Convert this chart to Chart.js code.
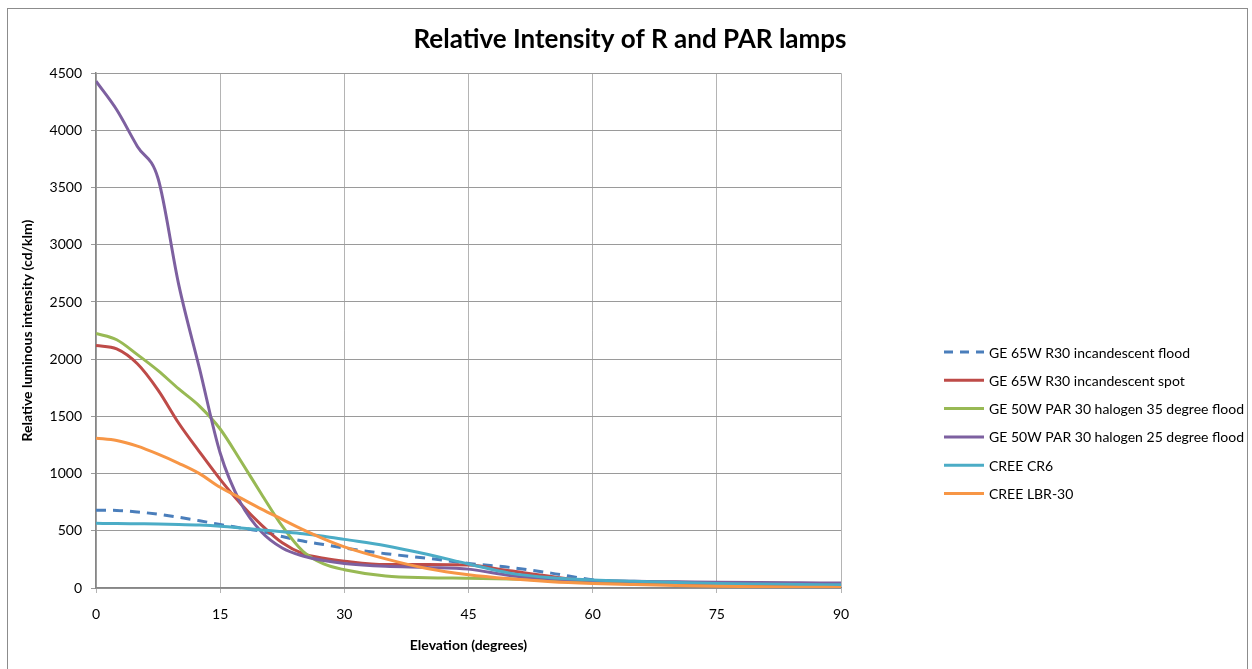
<!DOCTYPE html>
<html>
<head>
<meta charset="utf-8">
<script src="https://cdn.jsdelivr.net/npm/chart.js@4.4.1/dist/chart.umd.min.js"></script>
<style>
  html, body { margin: 0; padding: 0; background: #fff; }
  #wrap { position: relative; width: 1252px; height: 669px; }
  #frame { position: absolute; left: 7px; top: 8px; width: 1241px; height: 680px; border: 1px solid #8c8c8c; box-sizing: border-box; }
  canvas { position: absolute; left: 0; top: 0; }
</style>
</head>
<body>
<div id="wrap">
  <div id="frame"></div>
  <canvas id="lampChart" width="1252" height="669"></canvas>
</div>
<script>
// Elevation angles (degrees) at which each lamp was read
const elevations = [0, 2.5, 5, 7.5, 10, 12.5, 15, 17.5, 20, 22.5, 25, 27.5, 30, 35, 40, 45, 50, 55, 60, 65, 70, 75, 80, 85, 90];

// Relative luminous intensity (cd/klm)
const r30Flood = [680, 678, 665, 645, 618, 588, 555, 525, 495, 450, 410, 380, 350, 300, 260, 215, 180, 130, 72, 52, 42, 36, 32, 28, 25];
const r30Spot = [2120, 2090, 1960, 1730, 1440, 1190, 950, 735, 550, 395, 300, 260, 235, 205, 205, 200, 150, 100, 60, 45, 38, 33, 30, 27, 25];
const par30Deg35 = [2225, 2170, 2040, 1900, 1740, 1590, 1390, 1110, 820, 540, 320, 210, 160, 105, 90, 85, 78, 70, 62, 55, 50, 46, 43, 40, 38];
const par30Deg25 = [4430, 4180, 3860, 3580, 2650, 1920, 1180, 740, 490, 350, 280, 240, 215, 190, 180, 165, 110, 80, 65, 58, 54, 50, 47, 45, 43];
const creeCR6 = [565, 564, 562, 560, 556, 550, 540, 525, 508, 492, 475, 452, 425, 370, 295, 210, 130, 90, 70, 58, 48, 40, 35, 31, 28];
const creeLBR30 = [1310, 1290, 1240, 1170, 1090, 1000, 880, 785, 690, 600, 510, 430, 360, 255, 170, 115, 80, 55, 40, 30, 22, 16, 11, 7, 5];

const seriesNames = [
  "GE 65W R30 incandescent flood",
  "GE 65W R30 incandescent spot",
  "GE 50W PAR 30 halogen 35 degree flood",
  "GE 50W PAR 30 halogen 25 degree flood",
  "CREE CR6",
  "CREE LBR-30",
];
const seriesValues = [r30Flood, r30Spot, par30Deg35, par30Deg25, creeCR6, creeLBR30];
const seriesColors = ["#4a7ebb", "#be4b48", "#98b954", "#7d60a0", "#4bacc6", "#f79646"];
const xTicks = [0, 15, 30, 45, 60, 75, 90];

const FONT = "Lato, 'Liberation Sans', sans-serif";

// legend drawn on the right, like the Excel one
const sideLegend = {
  id: "sideLegend",
  afterDraw(chart) {
    const ctx = chart.ctx;
    ctx.save();
    ctx.font = "14px " + FONT;
    ctx.textBaseline = "middle";
    ctx.fillStyle = "#000";
    seriesNames.forEach((name, i) => {
      const y = 352 + i * 28.3;
      ctx.beginPath();
      ctx.lineWidth = 3;
      ctx.strokeStyle = seriesColors[i];
      ctx.setLineDash(i === 0 ? [9, 7] : []);
      ctx.moveTo(944, y);
      ctx.lineTo(984, y);
      ctx.stroke();
      ctx.setLineDash([]);
      ctx.fillText(name, 989, y + 1);
    });
    ctx.restore();
  },
};

const ctx = document.getElementById("lampChart").getContext("2d");
new Chart(ctx, {
  type: "line",
  data: {
    datasets: seriesNames.map((name, i) => ({
      label: name,
      data: elevations.map((e, j) => ({ x: e, y: seriesValues[i][j] })),
      borderColor: seriesColors[i],
      backgroundColor: seriesColors[i],
      borderWidth: 3,
      borderDash: i === 0 ? [10, 7] : [],
      pointRadius: 0,
      cubicInterpolationMode: "monotone",
      fill: false,
      order: seriesNames.length - i,
    })),
  },
  plugins: [sideLegend],
  options: {
    responsive: false,
    animation: false,
    layout: { padding: { left: 8, right: 0, top: 0, bottom: 0 } },
    plugins: {
      legend: { display: false },
      tooltip: { enabled: false },
      title: {
        display: true,
        text: "Relative Intensity of R and PAR lamps",
        color: "#000",
        font: { family: FONT, size: 26, weight: "bold" },
        padding: { top: 24, bottom: 18 },
      },
    },
    scales: {
      x: {
        type: "linear",
        min: 0,
        max: 90,
        afterBuildTicks: (scale) => {
          scale.ticks = xTicks.map((v) => ({ value: v }));
        },
        afterFit: (scale) => {
          scale.height = 81;
        },
        ticks: {
          color: "#000",
          font: { family: FONT, size: 14 },
          padding: 13,
          maxRotation: 0,
          callback: (v) => String(v),
        },
        grid: { color: "#b4b4b4", lineWidth: 1, tickLength: 5 },
        border: { color: "#868686", width: 1.5 },
        title: {
          display: true,
          text: "Elevation (degrees)",
          color: "#000",
          font: { family: FONT, size: 14, weight: "bold" },
          padding: { top: 4, bottom: 15 },
        },
      },
      y: {
        min: 0,
        max: 4500,
        ticks: {
          stepSize: 500,
          color: "#000",
          font: { family: FONT, size: 14 },
          padding: 9,
          callback: (v) => String(v),
        },
        afterFit: (scale) => {
          scale.width = 88;
        },
        grid: { color: "#9a9a9a", lineWidth: 1, tickLength: 5 },
        border: { color: "#868686", width: 1.5 },
        title: {
          display: true,
          text: "Relative luminous intensity (cd/klm)",
          color: "#000",
          font: { family: FONT, size: 14, weight: "bold" },
          padding: { top: 11, bottom: 0 },
        },
      },
      // empty right-hand axis, keeps room for the legend
      legendSpace: {
        axis: "y",
        position: "right",
        grid: { display: false },
        ticks: { display: false },
        border: { display: false },
        afterFit: (scale) => {
          scale.width = 411;
        },
      },
    },
  },
});
</script>
</body>
</html>
